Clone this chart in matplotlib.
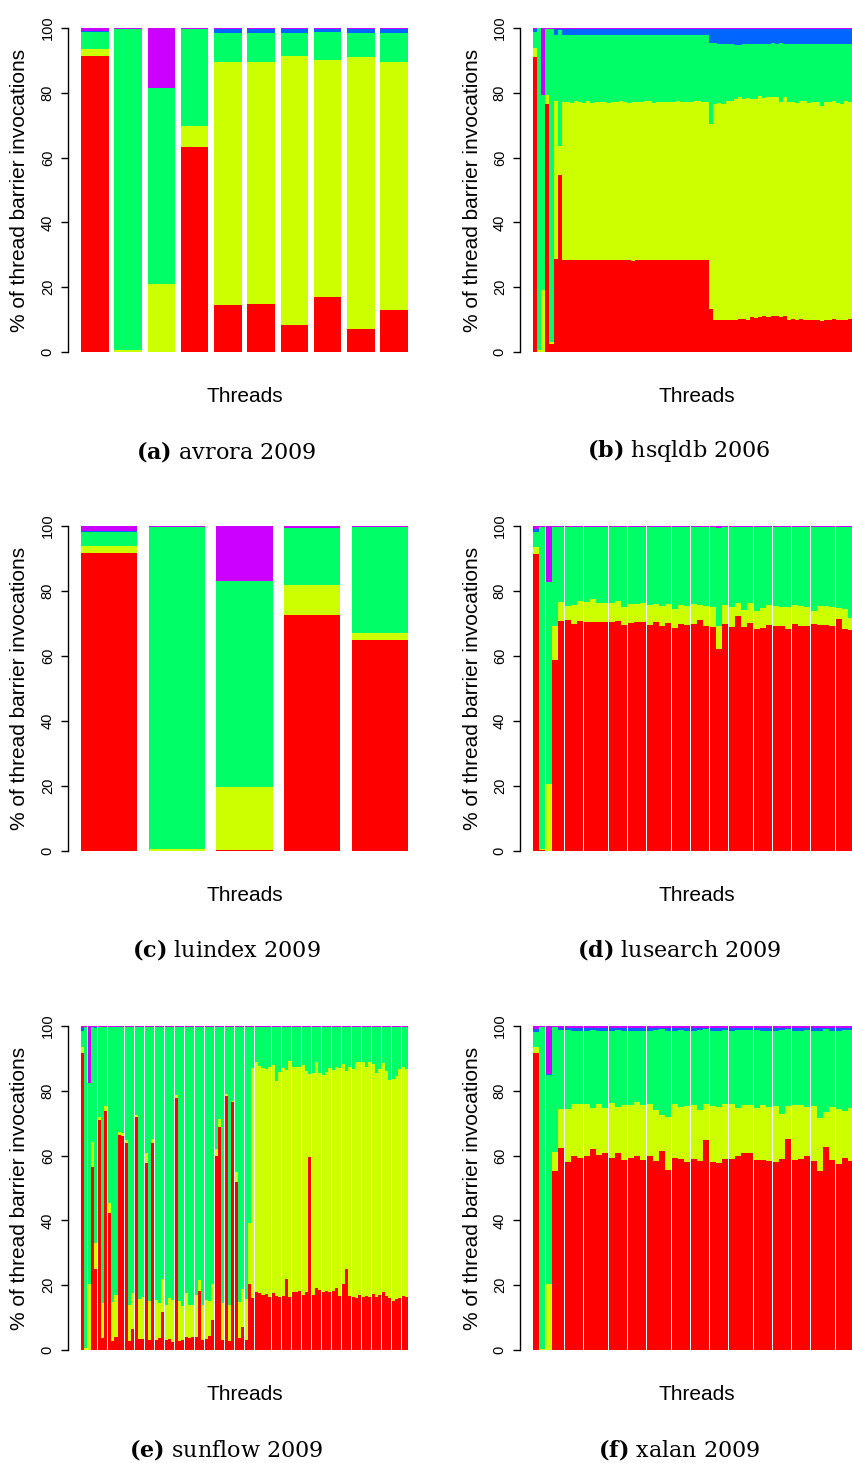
import numpy as np
import matplotlib.pyplot as plt

plt.rcParams['font.family'] = ['Liberation Sans', 'DejaVu Sans']
plt.rcParams['mathtext.fontset'] = 'dejavuserif'

# R rainbow(5): red, yellow-green, green, blue, magenta
colours = ['#FF0000', '#CCFF00', '#00FF66', '#0066FF', '#CC00FF']

# Upper edge (cumulative %) of the first four categories for each thread;
# the last category fills the bar up to 100 %.
avrora_red = [91.5, 0.0, 0.0, 63.4, 14.4, 14.7, 8.2, 16.9, 7.2, 13.1]
avrora_yel = [93.5, 0.5, 21.1, 69.6, 89.5, 89.5, 91.5, 90.1, 91.2, 89.5]
avrora_grn = [98.7, 99.7, 81.5, 99.7, 98.6, 98.6, 98.6, 98.9, 98.6, 98.6]
avrora_blu = [99.2, 99.7, 81.5, 99.7, 99.7, 99.7, 99.7, 99.7, 99.7, 99.7]

hsqldb_red = [91.2, 0.0, 0.0, 76.5, 2.5, 28.6, 54.6,
              28.5, 28.4, 28.3, 28.3, 28.3, 28.5, 28.3, 28.4, 28.5, 28.4, 28.5, 28.4,
              28.5, 28.4, 28.3, 28.5, 28.3, 28.1, 28.5, 28.5, 28.5, 28.5, 28.5, 28.5,
              28.5, 28.5, 28.5, 28.5, 28.4, 28.5, 28.3, 28.5, 28.5, 28.5, 28.5, 28.5,
              13.3,
              9.9, 9.9, 9.9, 9.9, 9.9, 9.9, 10.2, 10.2, 9.9, 10.9, 10.6, 10.9,
              11.2, 10.9, 11.2, 11.2, 10.9, 11.2, 9.9, 10.2, 9.9, 10.2, 9.9, 9.9,
              9.9, 9.9, 9.6, 9.9, 9.9, 10.2, 9.9, 9.9, 9.9, 10.2, 9.9, 9.9]
hsqldb_yel = [93.7, 0.5, 19.1, 79.3, 3.0, 77.5, 63.6,
              77.2, 77.1, 77.0, 77.4, 77.2, 77.0, 77.5, 77.0, 77.3, 77.1, 77.3, 76.8,
              77.1, 77.2, 77.4, 77.3, 76.9, 77.1, 77.2, 77.1, 77.4, 77.4, 77.0, 77.3,
              77.2, 77.3, 77.1, 77.2, 77.5, 77.1, 77.3, 77.2, 77.4, 77.6, 77.2, 77.3,
              70.4,
              76.5, 76.7, 76.5, 77.4, 77.4, 78.0, 78.6, 78.2, 78.4, 78.0, 78.1, 78.9,
              78.4, 78.6, 78.6, 78.6, 77.2, 78.6, 77.3, 77.3, 77.0, 77.5, 77.5, 76.9,
              77.2, 77.2, 75.9, 77.2, 77.2, 77.5, 76.9, 76.6, 77.5, 77.2, 77.0, 77.0]
hsqldb_grn = [98.9, 99.9, 79.3, 99.8, 99.8, 97.9, 99.4,
              97.9, 97.9, 97.9, 97.9, 97.9, 97.9, 97.9, 97.9, 97.9, 97.9, 97.9, 97.9,
              97.9, 97.9, 97.9, 97.9, 97.9, 97.9, 97.9, 97.9, 97.9, 97.9, 97.9, 97.9,
              97.9, 97.9, 97.9, 97.9, 97.9, 97.9, 97.9, 97.9, 97.9, 97.9, 97.9, 97.9,
              95.3,
              95.3, 95.1, 95.1, 95.1, 95.1, 94.9, 94.9, 95.1, 95.1, 95.1, 95.1, 95.1,
              95.1, 95.1, 95.3, 95.1, 95.3, 95.1, 95.1, 95.1, 95.1, 95.1, 95.1, 95.1,
              95.1, 95.1, 95.1, 95.1, 95.1, 95.1, 95.1, 95.1, 95.1, 95.1, 95.1, 95.1]
hsqldb_blu = [99.6, 99.9, 79.3, 99.8, 99.8, 99.7, 99.7,
              99.7, 99.7, 99.7, 99.7, 99.7, 99.7, 99.7, 99.7, 99.7, 99.7, 99.7, 99.7,
              99.7, 99.7, 99.7, 99.7, 99.7, 99.7, 99.7, 99.7, 99.7, 99.7, 99.7, 99.7,
              99.7, 99.7, 99.7, 99.7, 99.7, 99.7, 99.7, 99.7, 99.7, 99.7, 99.7, 99.7,
              99.6,
              99.6, 99.6, 99.6, 99.6, 99.6, 99.6, 99.6, 99.6, 99.6, 99.6, 99.6, 99.6,
              99.6, 99.6, 99.6, 99.6, 99.6, 99.6, 99.6, 99.6, 99.6, 99.6, 99.6, 99.6,
              99.6, 99.6, 99.6, 99.6, 99.6, 99.6, 99.6, 99.6, 99.6, 99.6, 99.6, 99.6]

luindex_red = [91.8, 0.0, 0.2, 72.6, 64.8]
luindex_yel = [93.7, 0.5, 19.7, 81.8, 67.1]
luindex_grn = [98.3, 99.7, 83.1, 99.5, 99.7]
luindex_blu = [98.6, 99.7, 83.1, 99.5, 99.7]

lusearch_red = [91.4, 0.3, 0.0, 58.8, 70.8, 71.1, 69.8, 70.8, 70.5, 70.5, 70.5, 70.5, 70.5,
                70.8, 69.5, 70.2, 70.5, 70.5, 69.5, 70.5, 69.2, 70.2, 68.6, 69.8, 69.5, 69.8,
                71.1, 69.2, 68.9, 62.2, 69.8, 68.9, 72.3, 68.9, 70.2, 68.3, 68.6, 69.5, 69.2,
                69.2, 68.3, 69.8, 69.2, 69.2, 69.8, 69.5, 69.5, 69.2, 71.4, 68.3, 68.0, 69.0]
lusearch_yel = [93.4, 0.5, 20.6, 69.2, 76.6, 75.4, 75.7, 76.9, 76.6, 77.5, 76.3, 76.3, 76.3,
                76.9, 75.1, 76.0, 76.0, 76.3, 75.7, 76.0, 75.4, 76.0, 74.5, 75.7, 75.4, 76.0,
                75.7, 75.4, 75.1, 69.2, 75.7, 75.1, 76.3, 74.2, 76.3, 73.8, 74.8, 75.7, 75.4,
                75.1, 75.1, 75.7, 75.4, 75.1, 73.8, 75.4, 75.4, 75.1, 74.8, 74.5, 71.7, 75.0]
lusearch_grn = [98.3, 99.7, 82.9, 99.7, 99.7, 99.7, 99.7, 99.7, 99.7, 99.7, 99.7, 99.7, 99.7,
                99.7, 99.7, 99.7, 99.7, 99.7, 99.7, 99.7, 99.7, 99.7, 99.7, 99.7, 99.7, 99.7,
                99.7, 99.7, 99.7, 99.5, 99.7, 99.7, 99.7, 99.7, 99.7, 99.7, 99.7, 99.7, 99.7,
                99.7, 99.7, 99.7, 99.7, 99.7, 99.7, 99.7, 99.7, 99.7, 99.7, 99.7, 99.7, 99.7]
lusearch_blu = [99.0, 99.7, 82.9, 99.7, 99.7, 99.7, 99.7, 99.7, 99.7, 99.7, 99.7, 99.7, 99.7,
                99.7, 99.7, 99.7, 99.7, 99.7, 99.7, 99.7, 99.7, 99.7, 99.7, 99.7, 99.7, 99.7,
                99.7, 99.7, 99.7, 99.5, 99.7, 99.7, 99.7, 99.7, 99.7, 99.7, 99.7, 99.7, 99.7,
                99.7, 99.7, 99.7, 99.7, 99.7, 99.7, 99.7, 99.7, 99.7, 99.7, 99.7, 99.7, 99.7]

sunflow_red = [91.7, 0.0, 0.0, 56.6, 25.1, 71.0, 3.8, 73.8, 42.4, 2.9, 4.0, 66.3,
               66.0, 64.0, 2.8, 6.4, 72.0, 3.5, 3.5, 57.6, 3.0, 64.0, 3.1, 3.6,
               11.7, 3.1, 3.3, 2.6, 77.9, 2.8, 3.2, 3.9, 3.7, 3.9, 3.9, 18.3,
               3.0, 3.3, 4.2, 9.3, 59.9, 68.9, 3.0, 78.4, 2.7, 76.5, 51.9, 3.8,
               7.2, 3.1, 20.4,
               16.2, 17.9, 17.5, 17.1, 17.3, 16.5, 17.5, 16.8, 16.5, 16.7, 21.9, 16.5,
               17.9, 17.9, 18.2, 17.1, 17.9, 59.6, 17.0, 19.1, 18.5, 17.9, 18.2, 17.9,
               18.3, 19.1, 16.7, 20.4, 25.0, 16.7, 16.5, 16.2, 17.0, 16.5, 16.7, 16.5,
               17.3, 16.5, 17.0, 17.9, 16.7, 16.2, 15.1, 15.7, 16.2, 16.7, 16.5]
sunflow_yel = [93.5, 0.5, 20.4, 64.2, 32.9, 71.8, 14.4, 75.3, 45.5, 14.8, 17.0, 67.2,
               67.0, 64.9, 14.0, 17.7, 72.5, 15.6, 16.5, 60.7, 15.0, 65.2, 15.3, 14.5,
               21.9, 14.0, 16.2, 15.3, 78.6, 15.0, 13.7, 17.5, 14.0, 14.0, 17.0, 21.6,
               14.0, 15.3, 15.2, 20.5, 62.0, 71.3, 14.5, 78.9, 13.8, 77.0, 55.0, 14.7,
               18.7, 15.8, 39.3,
               87.0, 89.0, 87.7, 87.1, 86.7, 87.4, 88.0, 83.0, 85.9, 86.9, 86.4, 89.1,
               87.3, 87.3, 87.3, 88.0, 86.1, 85.2, 85.6, 88.9, 85.4, 84.9, 85.8, 86.9,
               86.4, 87.3, 87.1, 88.3, 86.1, 87.2, 86.7, 88.9, 88.9, 88.9, 87.4, 88.9,
               88.4, 85.6, 86.7, 88.6, 86.2, 83.3, 83.6, 84.6, 86.7, 87.3, 86.7]
sunflow_grn = [98.5, 99.7, 82.3, 99.6, 99.3, 99.6, 99.6, 99.6, 99.6, 99.6, 99.6, 99.6,
               99.6, 99.6, 99.6, 99.6, 99.6, 99.6, 99.6, 99.6, 99.6, 99.6, 99.6, 99.6,
               99.6, 99.6, 99.6, 99.6, 99.6, 99.6, 99.6, 99.6, 99.6, 99.6, 99.6, 99.6,
               99.6, 99.6, 99.6, 99.6, 99.6, 99.6, 99.6, 99.6, 99.6, 99.6, 99.6, 99.6,
               99.6, 99.6, 99.6,
               99.6, 99.6, 99.6, 99.6, 99.6, 99.6, 99.6, 99.6, 99.6, 99.6, 99.6, 99.6,
               99.6, 99.6, 99.6, 99.6, 99.6, 99.6, 99.6, 99.6, 99.6, 99.6, 99.6, 99.6,
               99.6, 99.6, 99.6, 99.6, 99.6, 99.6, 99.6, 99.6, 99.6, 99.6, 99.6, 99.6,
               99.6, 99.6, 99.6, 99.6, 99.6, 99.6, 99.6, 99.6, 99.6, 99.6, 99.6]
sunflow_blu = [99.3, 99.7, 82.3, 99.6, 99.6, 99.6, 99.6, 99.6, 99.6, 99.6, 99.6, 99.6,
               99.6, 99.6, 99.6, 99.6, 99.6, 99.6, 99.6, 99.6, 99.6, 99.6, 99.6, 99.6,
               99.6, 99.6, 99.6, 99.6, 99.6, 99.6, 99.6, 99.6, 99.6, 99.6, 99.6, 99.6,
               99.6, 99.6, 99.6, 99.6, 99.6, 99.6, 99.6, 99.6, 99.6, 99.6, 99.6, 99.6,
               99.6, 99.6, 99.6,
               99.6, 99.6, 99.6, 99.6, 99.6, 99.6, 99.6, 99.6, 99.6, 99.6, 99.6, 99.6,
               99.6, 99.6, 99.6, 99.6, 99.6, 99.6, 99.6, 99.6, 99.6, 99.6, 99.6, 99.6,
               99.6, 99.6, 99.6, 99.6, 99.6, 99.6, 99.6, 99.6, 99.6, 99.6, 99.6, 99.6,
               99.6, 99.6, 99.6, 99.6, 99.6, 99.6, 99.6, 99.6, 99.6, 99.6, 99.6]

xalan_red = [91.6, 0.0, 0.0, 55.3, 62.5, 58.1, 59.8, 59.3, 60.0, 62.1, 60.3, 60.9, 59.3,
             60.9, 58.7, 59.3, 59.8, 58.7, 59.8, 58.4, 61.5, 55.6, 59.3, 59.0, 58.1, 59.0,
             58.4, 64.9, 58.1, 57.8, 59.0, 59.0, 60.0, 60.9, 60.9, 58.7, 58.7, 58.4, 58.1,
             59.0, 65.1, 58.7, 59.0, 60.0, 58.4, 55.3, 62.7, 58.7, 57.5, 59.3, 58.4, 59.0]
xalan_yel = [93.4, 0.4, 20.5, 61.2, 74.4, 74.4, 76.0, 76.0, 76.0, 74.7, 76.0, 74.7, 76.3,
             75.0, 75.7, 75.7, 76.6, 75.7, 76.0, 74.1, 72.6, 72.0, 76.0, 75.0, 75.4, 75.7,
             74.1, 76.0, 75.4, 75.0, 76.0, 76.0, 74.7, 75.7, 75.7, 74.7, 75.7, 75.0, 75.4,
             72.9, 75.4, 75.7, 75.7, 75.0, 75.4, 71.7, 73.5, 75.0, 74.4, 73.8, 74.7, 75.0]
xalan_grn = [98.3, 99.6, 84.9, 99.6, 98.8, 98.8, 98.5, 98.5, 98.5, 98.8, 98.5, 98.5, 98.5,
             98.8, 98.5, 98.5, 98.5, 98.5, 98.5, 98.8, 99.0, 98.5, 98.5, 98.8, 98.5, 98.5,
             98.8, 99.0, 98.5, 98.5, 98.8, 98.5, 98.8, 98.8, 98.8, 98.8, 98.5, 98.5, 98.5,
             98.8, 99.0, 98.5, 98.5, 98.8, 98.5, 98.5, 99.0, 98.5, 98.5, 98.8, 98.8, 98.8]
xalan_blu = [99.0, 99.6, 85.2, 99.6, 99.4, 99.4, 99.4, 99.4, 99.4, 99.4, 99.4, 99.4, 99.4,
             99.4, 99.4, 99.4, 99.4, 99.4, 99.4, 99.4, 99.4, 99.4, 99.4, 99.4, 99.4, 99.4,
             99.4, 99.4, 99.4, 99.4, 99.4, 99.4, 99.4, 99.4, 99.4, 99.4, 99.4, 99.4, 99.4,
             99.4, 99.4, 99.4, 99.4, 99.4, 99.4, 99.4, 99.4, 99.4, 99.4, 99.4, 99.4, 99.4]

# tag, benchmark, layers, bar width (bar pitch is 1.2)
panels = [
    ('(a)', 'avrora 2009', [avrora_red, avrora_yel, avrora_grn, avrora_blu], 1.0),
    ('(b)', 'hsqldb 2006', [hsqldb_red, hsqldb_yel, hsqldb_grn, hsqldb_blu], 1.2),
    ('(c)', 'luindex 2009', [luindex_red, luindex_yel, luindex_grn, luindex_blu], 1.0),
    ('(d)', 'lusearch 2009', [lusearch_red, lusearch_yel, lusearch_grn, lusearch_blu], 1.14),
    ('(e)', 'sunflow 2009', [sunflow_red, sunflow_yel, sunflow_grn, sunflow_blu], 1.09),
    ('(f)', 'xalan 2009', [xalan_red, xalan_yel, xalan_grn, xalan_blu], 1.14),
]

W, H = 852, 1463
fig = plt.figure(figsize=(W / 100, H / 100), dpi=100)

axis_x = [68, 520]          # pixel column of the y axis line
zero_y = [352, 851, 1350]   # pixel row of 0 %
top_y = [28, 526, 1026]     # pixel row of 100 %
plot_w = 353
caption_x = [226, 679]

for i, (tag, name, layers, bar_w) in enumerate(panels):
    row, col = divmod(i, 2)
    unit = (zero_y[row] - top_y[row]) / 100.0
    bottom_px = zero_y[row] + 4 * unit
    height_px = 108 * unit
    ax = fig.add_axes([axis_x[col] / W, 1 - bottom_px / H, plot_w / W, height_px / H])

    n = len(layers[0])
    x = 0.2 + 1.2 * np.arange(n)
    lower = np.zeros(n)
    for upper, colour in zip([np.array(l) for l in layers] + [np.full(n, 100.0)], colours):
        ax.bar(x, upper - lower, width=bar_w, bottom=lower, align='edge',
               color=colour, linewidth=0)
        lower = upper

    span = 1.2 * n - 0.2
    ax.set_xlim(0.2 - 0.04 * span, 1.2 * n + 0.04 * span)
    ax.set_ylim(-4, 104)
    for side in ['top', 'right', 'bottom']:
        ax.spines[side].set_visible(False)
    ax.spines['left'].set_bounds(0, 100)
    ax.spines['left'].set_linewidth(1)
    ax.set_xticks([])
    ax.set_yticks([0, 20, 40, 60, 80, 100])
    ax.tick_params(axis='y', length=5, width=1, pad=4.5, labelsize=10.5, labelrotation=90)
    for lbl in ax.get_yticklabels():
        lbl.set_va('center')
    ax.patch.set_visible(False)

    cy = (zero_y[row] + top_y[row]) / 2
    fig.text((axis_x[col] - 48) / W, 1 - cy / H, '% of thread barrier invocations',
             rotation=90, ha='center', va='center', fontsize=15)
    fig.text((axis_x[col] + plot_w / 2) / W, 1 - (zero_y[row] + 44) / H, 'Threads',
             ha='center', va='center', fontsize=15)
    fig.text(caption_x[col] / W, 1 - (zero_y[row] + 99) / H,
             r'$\mathbf{' + tag + '}$ ' + name,
             family='DejaVu Serif', ha='center', va='center', fontsize=16)

fig.savefig('out.png', dpi=100)
